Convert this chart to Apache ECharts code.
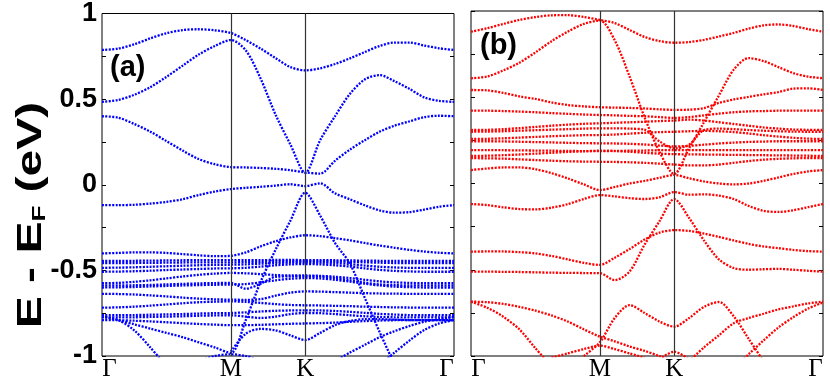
<!DOCTYPE html>
<html><head><meta charset="utf-8">
<script src="https://cdn.jsdelivr.net/npm/echarts@6/dist/echarts.min.js"></script>
<style>html,body{margin:0;padding:0;background:#fff}#c{width:830px;height:382px}</style>
</head><body><div id="c"></div>
<script>
// k-path grid (Γ-M-K-Γ), in units of the reciprocal lattice path length
const kGrid = [0, 0.0722, 0.1443, 0.2165, 0.2887, 0.3608, 0.4330, 0.5052, 0.5774,
  0.6441, 0.7107, 0.7774, 0.8441, 0.9107,
  0.9774, 1.0440, 1.1107, 1.1774, 1.2440, 1.3107, 1.3774, 1.4440, 1.5107, 1.5773];
const tickK = [0, 0.5774, 0.9107, 1.5773];
const tickLabels = ['Γ', 'M', 'K', 'Γ'];
const symLines = [0.5774, 0.9107];
const yLabelValues = [-1, -0.5, 0, 0.5, 1];

// ---------- panel (a) bands ----------
const a1 = [0.787,0.795,0.82,0.855,0.885,0.903,0.908,0.902,0.886,0.845,0.795,0.74,0.687,0.668,0.68,0.705,0.738,0.775,0.81,0.83,0.83,0.813,0.797,0.787];
const a2 = [0.484,0.495,0.525,0.57,0.63,0.695,0.76,0.81,0.845,0.785,0.62,0.41,0.235,0.07,0.26,0.40,0.53,0.615,0.64,0.605,0.56,0.51,0.49,0.484];
const a3 = [0.40,0.392,0.355,0.31,0.255,0.20,0.15,0.12,0.103,0.101,0.098,0.093,0.085,0.072,0.065,0.14,0.205,0.26,0.31,0.345,0.37,0.395,0.403,0.40];
const a4 = [-0.119,-0.119,-0.117,-0.11,-0.10,-0.085,-0.06,-0.04,-0.025,-0.018,-0.012,-0.005,0.003,-0.008,0.008,-0.05,-0.085,-0.12,-0.15,-0.163,-0.16,-0.145,-0.128,-0.119];
const a5 = [-0.77,-0.79,-0.815,-0.84,-0.865,-0.89,-0.92,-0.95,-0.982,-0.79,-0.567,-0.38,-0.21,-0.047,-0.18,-0.34,-0.46,-0.66,-0.86,-1.05,null,null,null,null];
const a6 = [null,null,null,null,null,null,null,null,null,null,null,null,null,null,null,-1.03,-0.98,-0.935,-0.89,-0.855,-0.825,-0.80,-0.785,-0.772];
const a7 = [null,null,null,null,null,null,null,null,null,null,null,null,null,null,null,null,null,null,-1.05,-0.98,-0.91,-0.848,-0.81,-0.79];
const a8 = [-0.77,-0.79,-0.85,-0.95,-1.06,null,null,null,null,null,null,null,null,null,null,null,null,null,null,null,null,null,null,null];
const a9 = [null,null,null,null,null,null,-1.03,-1.0,-0.99,-1.0,-1.03,null,null,null,null,null,null,null,null,null,null,null,null,null];
const aB1 = [-0.401,-0.398,-0.395,-0.395,-0.398,-0.405,-0.412,-0.417,-0.415,-0.395,-0.36,-0.33,-0.308,-0.295,-0.3,-0.312,-0.325,-0.34,-0.355,-0.368,-0.38,-0.39,-0.397,-0.401];
const aD1 = [-0.445,-0.445,-0.444,-0.443,-0.442,-0.441,-0.44,-0.44,-0.44,-0.44,-0.44,-0.439,-0.439,-0.44,-0.44,-0.441,-0.442,-0.443,-0.444,-0.445,-0.445,-0.445,-0.445,-0.445];
const aD2 = [-0.458,-0.458,-0.457,-0.456,-0.455,-0.454,-0.453,-0.453,-0.453,-0.452,-0.45,-0.448,-0.447,-0.447,-0.447,-0.448,-0.45,-0.453,-0.455,-0.457,-0.458,-0.458,-0.458,-0.458];
const aD3 = [-0.485,-0.484,-0.482,-0.479,-0.476,-0.473,-0.47,-0.468,-0.467,-0.465,-0.461,-0.457,-0.454,-0.453,-0.454,-0.457,-0.463,-0.472,-0.479,-0.483,-0.485,-0.485,-0.485,-0.485];
const aD4 = [-0.508,-0.507,-0.505,-0.502,-0.498,-0.495,-0.492,-0.489,-0.488,-0.485,-0.478,-0.47,-0.465,-0.463,-0.465,-0.47,-0.478,-0.488,-0.497,-0.503,-0.506,-0.508,-0.508,-0.508];
const aD5 = [-0.575,-0.573,-0.567,-0.558,-0.547,-0.536,-0.526,-0.519,-0.515,-0.517,-0.522,-0.527,-0.53,-0.53,-0.532,-0.537,-0.545,-0.555,-0.564,-0.57,-0.573,-0.575,-0.575,-0.575];
const aD6 = [-0.588,-0.588,-0.587,-0.585,-0.582,-0.579,-0.576,-0.574,-0.573,-0.607,-0.578,-0.538,-0.535,-0.533,-0.536,-0.545,-0.558,-0.572,-0.582,-0.586,-0.588,-0.588,-0.588,-0.588];
const aD7 = [-0.637,-0.638,-0.641,-0.646,-0.652,-0.659,-0.665,-0.669,-0.671,-0.672,-0.668,-0.648,-0.63,-0.623,-0.624,-0.627,-0.63,-0.633,-0.635,-0.636,-0.637,-0.637,-0.637,-0.637];
const aD8 = [-0.600,-0.599,-0.597,-0.594,-0.591,-0.588,-0.586,-0.584,-0.583,-0.58,-0.57,-0.558,-0.549,-0.545,-0.547,-0.555,-0.566,-0.578,-0.588,-0.595,-0.598,-0.6,-0.6,-0.6];
const aD9 = [-0.718,-0.716,-0.712,-0.706,-0.699,-0.692,-0.686,-0.683,-0.681,-0.684,-0.69,-0.697,-0.702,-0.704,-0.705,-0.707,-0.709,-0.712,-0.714,-0.716,-0.717,-0.718,-0.718,-0.718];
const aD10 = [-0.762,-0.762,-0.761,-0.759,-0.757,-0.755,-0.752,-0.75,-0.749,-0.745,-0.74,-0.736,-0.734,-0.733,-0.734,-0.737,-0.742,-0.748,-0.754,-0.758,-0.761,-0.762,-0.762,-0.762];
const aD11 = [-0.775,-0.775,-0.774,-0.772,-0.77,-0.768,-0.765,-0.763,-0.762,-0.77,-0.778,-0.77,-0.755,-0.749,-0.75,-0.755,-0.762,-0.768,-0.772,-0.774,-0.775,-0.775,-0.775,-0.775];
const aD12 = [-0.79,-0.791,-0.794,-0.798,-0.803,-0.808,-0.813,-0.817,-0.82,-0.82,-0.818,-0.815,-0.812,-0.81,-0.808,-0.805,-0.8,-0.796,-0.793,-0.791,-0.79,-0.79,-0.79,-0.79];
const aD13 = [null,null,null,null,null,null,null,null,-0.975,-0.87,-0.842,-0.85,-0.88,-0.907,-0.865,-0.82,-0.795,-0.785,-0.785,-0.788,-0.79,-0.79,-0.79,-0.79];

// ---------- panel (b) bands ----------
const b1 = [0.88,0.90,0.925,0.948,0.965,0.975,0.976,0.965,0.948,0.93,0.89,0.85,0.826,0.816,0.82,0.833,0.852,0.873,0.898,0.917,0.922,0.913,0.895,0.88];
const b2 = [0.61,0.62,0.655,0.70,0.76,0.825,0.88,0.925,0.945,0.83,0.62,0.385,0.185,0.055,0.205,0.355,0.51,0.66,0.727,0.71,0.675,0.64,0.62,0.61];
const b3 = [0.542,0.54,0.525,0.505,0.49,0.47,0.455,0.447,0.442,0.44,0.438,0.435,0.43,0.427,0.428,0.437,0.467,0.487,0.502,0.517,0.53,0.55,0.552,0.542];
const b4 = [0.422,0.422,0.42,0.417,0.413,0.408,0.404,0.40,0.397,0.395,0.392,0.39,0.385,0.38,0.385,0.395,0.405,0.413,0.418,0.42,0.422,0.422,0.422,0.422];
const bC1 = [0.31,0.311,0.315,0.321,0.328,0.335,0.341,0.346,0.349,0.352,0.355,0.358,0.362,0.365,0.37,0.365,0.355,0.345,0.335,0.325,0.318,0.313,0.311,0.31];
const bC2 = [0.30,0.301,0.303,0.306,0.309,0.312,0.315,0.318,0.32,0.32,0.318,0.312,0.245,0.204,0.225,0.31,0.318,0.315,0.31,0.306,0.303,0.301,0.30,0.30];
const bC3 = [0.258,0.259,0.262,0.266,0.27,0.274,0.277,0.28,0.281,0.284,0.289,0.294,0.298,0.30,0.303,0.305,0.303,0.298,0.29,0.28,0.272,0.265,0.26,0.258];
const bC4 = [0.245,0.245,0.244,0.242,0.24,0.238,0.236,0.234,0.233,0.232,0.23,0.226,0.22,0.215,0.218,0.225,0.232,0.237,0.241,0.243,0.245,0.245,0.245,0.245];
const bC5 = [0.194,0.194,0.193,0.192,0.191,0.19,0.189,0.188,0.188,0.189,0.19,0.191,0.193,0.194,0.194,0.194,0.194,0.194,0.194,0.194,0.194,0.194,0.194,0.194];
const bC6 = [0.16,0.161,0.164,0.168,0.173,0.178,0.183,0.187,0.19,0.188,0.184,0.178,0.173,0.17,0.169,0.168,0.167,0.166,0.165,0.164,0.163,0.162,0.161,0.16];
const bC7 = [0.147,0.146,0.144,0.14,0.136,0.132,0.129,0.127,0.126,0.125,0.123,0.12,0.115,0.11,0.105,0.105,0.11,0.12,0.13,0.138,0.143,0.146,0.147,0.147];
const bC8 = [0.078,0.087,0.093,0.093,0.083,0.06,0.03,-0.005,-0.038,-0.02,0.0,0.015,0.033,0.05,0.03,0.012,0.0,-0.005,0.0,0.015,0.035,0.055,0.07,0.078];
const bE1 = [-0.119,-0.125,-0.138,-0.148,-0.15,-0.14,-0.12,-0.09,-0.067,-0.075,-0.085,-0.09,-0.08,-0.05,-0.065,-0.063,-0.07,-0.09,-0.13,-0.158,-0.165,-0.155,-0.137,-0.119];
const bE2 = [-0.395,-0.394,-0.394,-0.398,-0.405,-0.42,-0.44,-0.46,-0.472,-0.43,-0.38,-0.325,-0.285,-0.27,-0.275,-0.29,-0.31,-0.33,-0.35,-0.365,-0.375,-0.385,-0.392,-0.395];
const bE3 = [-0.511,-0.511,-0.512,-0.513,-0.515,-0.517,-0.518,-0.519,-0.52,-0.56,-0.51,-0.355,-0.22,-0.09,-0.2,-0.33,-0.44,-0.49,-0.5,-0.497,-0.495,-0.5,-0.506,-0.511];
const bF1 = [-0.685,-0.688,-0.698,-0.715,-0.737,-0.765,-0.80,-0.845,-0.888,-0.915,-0.945,-0.97,-1.0,-1.03,null,null,null,null,null,null,null,null,null,null];
const bF2 = [-0.685,-0.72,-0.772,-0.845,-0.955,-1.06,null,null,null,null,null,null,null,null,null,null,null,null,null,null,null,null,null,null];
const bF3 = [null,null,null,null,null,null,null,-1.0,-0.92,-0.78,-0.705,-0.75,-0.80,-0.83,-0.78,-0.715,-0.687,-0.77,-0.9,-1.03,null,null,null,null];
const bF4 = [null,null,null,null,null,null,null,null,null,null,null,null,null,null,-1.03,-0.95,-0.88,-0.81,-0.78,-0.755,-0.73,-0.712,-0.695,-0.685];
const bF5 = [null,null,null,null,null,null,null,null,null,null,null,null,null,null,null,null,null,-1.07,-0.99,-0.91,-0.835,-0.775,-0.725,-0.69];
const bF6 = [null,null,null,null,null,null,null,null,null,null,null,null,-1.02,-0.975,-1.02,null,null,null,null,null,null,null,null,null];
const bF7 = [null,null,null,null,null,-1.01,-0.985,-0.96,-0.94,-0.96,-0.985,-1.01,null,null,null,null,null,null,null,null,null,null,null,null];

const bandsA = [a1,a2,a3,a4,a5,a6,a7,a8,a9,aB1,aD1,aD2,aD3,aD4,aD5,aD6,aD7,aD8,aD9,aD10,aD11,aD12,aD13];
const bandsB = [b1,b2,b3,b4,bC1,bC2,bC3,bC4,bC5,bC6,bC7,bC8,bE1,bE2,bE3,bF1,bF2,bF3,bF4,bF5,bF6,bF7];

const chart = echarts.init(document.getElementById('c'), null, {renderer: 'canvas'});

function bandSeries(band, panel, color) {
  return {
    type: 'line', xAxisIndex: panel, yAxisIndex: panel * 2,
    data: kGrid.map((k, i) => [k, band[i] === null ? '-' : band[i]]),
    showSymbol: false, symbol: 'none', smooth: 0.3, connectNulls: false,
    clip: true, silent: true, animation: false, z: 3,
    lineStyle: { color: color, width: 2.3, type: [2, 1.4] }
  };
}
function symSeries(panel) {
  return {
    type: 'line', xAxisIndex: panel, yAxisIndex: panel * 2, data: [], silent: true,
    markLine: {
      silent: true, symbol: ['none', 'none'], animation: false,
      label: { show: false },
      lineStyle: { color: '#333', width: 1.2, type: 'solid' },
      data: symLines.map(k => ({ xAxis: k }))
    }
  };
}
function fmtX(v) {
  let idx = tickK.findIndex(t => Math.abs(t - v) < 1e-6);
  if (idx < 0) return '';
  if (idx === 0) return '{l|' + tickLabels[idx] + '}';
  if (idx === tickK.length - 1) return '{r|' + tickLabels[idx] + '}';
  return '{m|' + tickLabels[idx] + '}';
}
const serifFont = { fontFamily: 'Liberation Serif', fontSize: 25, color: '#000' };
function xAxisFor(g) {
  return {
    gridIndex: g, type: 'value', min: tickK[0], max: tickK[tickK.length - 1],
    axisLine: { show: false }, axisTick: { show: false }, splitLine: { show: false },
    axisLabel: {
      customValues: tickK, formatter: fmtX, margin: 1,
      rich: {
        l: Object.assign({ padding: [0, 0, 0, 15] }, serifFont),
        r: Object.assign({ padding: [0, 15, 0, 0] }, serifFont),
        m: Object.assign({}, serifFont)
      }
    }
  };
}
function yAxisFor(g, pos, labels) {
  return {
    gridIndex: g, type: 'value', position: pos, min: -1, max: 1, interval: 0.25,
    axisLine: { show: false }, splitLine: { show: false },
    axisTick: { show: true, inside: true, length: 4, lineStyle: { color: '#000', width: 1 } },
    axisLabel: {
      show: labels, margin: 5, color: '#000', fontFamily: 'Liberation Sans',
      fontWeight: 'bold', fontSize: 27, showMinLabel: true, showMaxLabel: true,
      formatter: v => (yLabelValues.some(t => Math.abs(t - v) < 1e-9) ? String(v) : '')
    }
  };
}

const series = [];
bandsA.forEach(b => series.push(bandSeries(b, 0, '#0000ff')));
bandsB.forEach(b => series.push(bandSeries(b, 1, '#ff0000')));
series.push(symSeries(0));
series.push(symSeries(1));

chart.setOption({
  animation: false,
  backgroundColor: '#fff',
  grid: [
    { left: 102, top: 11, width: 352, height: 345, show: true, borderColor: '#000', borderWidth: 1, backgroundColor: 'transparent', containLabel: false },
    { left: 471, top: 11, width: 352, height: 345, show: true, borderColor: '#000', borderWidth: 1, backgroundColor: 'transparent', containLabel: false }
  ],
  xAxis: [xAxisFor(0), xAxisFor(1)],
  yAxis: [yAxisFor(0, 'left', true), yAxisFor(0, 'right', false), yAxisFor(1, 'left', false), yAxisFor(1, 'right', false)],
  series: series,
  graphic: [
    { type: 'text', left: 110, top: 53, silent: true,
      style: { text: '(a)', font: 'bold 29px "Liberation Sans"', fill: '#000' } },
    { type: 'text', left: 480, top: 31, silent: true,
      style: { text: '(b)', font: 'bold 29px "Liberation Sans"', fill: '#000' } },
    { type: 'text', x: 30, y: 215, rotation: Math.PI / 2, scaleX: 1, scaleY: 0.74, silent: true,
      style: {
        text: '{a|E - E}{b|F}{a| (eV)}', align: 'center', verticalAlign: 'middle', fill: '#000',
        rich: {
          a: { fontSize: 48, fontWeight: 'bold', fontFamily: 'Liberation Sans', fill: '#000', lineHeight: 52, verticalAlign: 'bottom' },
          b: { fontSize: 26, fontWeight: 'bold', fontFamily: 'Liberation Sans', fill: '#000', lineHeight: 30, verticalAlign: 'bottom' }
        }
      } }
  ]
});
</script></body></html>
